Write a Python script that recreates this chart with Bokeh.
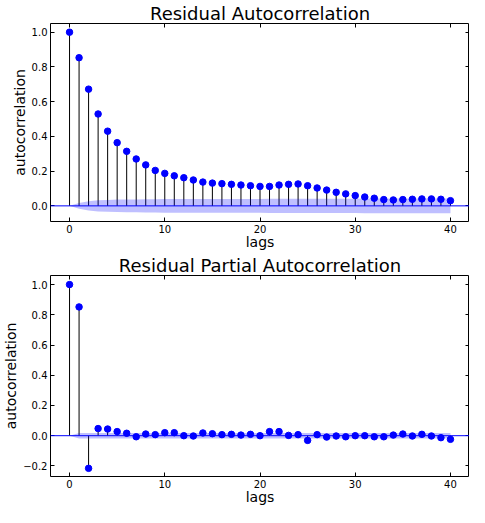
from bokeh.plotting import figure
from bokeh.layouts import column
from bokeh.models import (Range1d, FixedTicker, LinearAxis, Span, CustomJSTickFormatter,
                          CustomLabelingPolicy)
from bokeh.embed import file_html
from bokeh.resources import INLINE

lags = list(range(41))
acf_vals = [1.0, 0.853, 0.672, 0.529, 0.430, 0.364, 0.314, 0.270, 0.236, 0.204,
            0.187, 0.173, 0.162, 0.149, 0.137, 0.131, 0.128, 0.124, 0.120, 0.116,
            0.112, 0.112, 0.120, 0.124, 0.126, 0.116, 0.103, 0.091, 0.078, 0.069,
            0.059, 0.051, 0.044, 0.036, 0.034, 0.036, 0.038, 0.040, 0.040, 0.038,
            0.030]
acf_band = [0.0, 0.017, 0.027, 0.032, 0.034, 0.036, 0.037, 0.037, 0.038, 0.038,
            0.039, 0.039, 0.039, 0.039, 0.040, 0.040, 0.040, 0.040, 0.040, 0.040,
            0.040, 0.041, 0.041, 0.041, 0.041, 0.041, 0.041, 0.041, 0.041, 0.041,
            0.041, 0.042, 0.042, 0.042, 0.042, 0.042, 0.042, 0.042, 0.042, 0.042,
            0.042]
pacf_vals = [1.0, 0.852, -0.216, 0.047, 0.044, 0.027, 0.016, -0.007, 0.011, 0.007,
             0.020, 0.020, 0.0, -0.002, 0.018, 0.013, 0.007, 0.009, 0.004, 0.009,
             0.0, 0.027, 0.027, 0.002, 0.007, -0.031, 0.007, -0.009, -0.002, -0.007,
             0.0, 0.0, -0.007, -0.007, 0.004, 0.011, -0.002, 0.009, -0.002, -0.013,
             -0.024]
pacf_band = [0.0] + [0.018] * 40

x_ticks = [0, 10, 20, 30, 40]
acf_yticks = [0.0, 0.2, 0.4, 0.6, 0.8, 1.0]
pacf_yticks = [-0.2, 0.0, 0.2, 0.4, 0.6, 0.8, 1.0]

FONT = "DejaVu Sans"
fmt = CustomJSTickFormatter(code="return tick.toFixed(1).replace('-', '\u2212');")
HIDE = ("try { indices.clear() } catch (e) "
        "{ for (let i = 0; i < indices.size; i++) indices.unset(i) } return indices")


def mirror_axis(ticks):
    return LinearAxis(ticker=FixedTicker(ticks=ticks), axis_line_color=None,
                      major_tick_in=4, major_tick_out=0, minor_tick_line_color=None,
                      major_label_text_font_size="0px", major_label_standoff=0,
                      axis_label_standoff=0,
                      major_label_policy=CustomLabelingPolicy(code=HIDE))


def make_plot(title, vals, band, yticks, yr, height, top, bottom):
    p = figure(width=469, height=height, output_backend="svg", toolbar_location=None,
               x_range=Range1d(-2, 42), y_range=Range1d(*yr), title=title,
               min_border_left=30, min_border_right=0, min_border_top=top,
               min_border_bottom=bottom)
    p.title.text_font = FONT
    p.title.text_font_size = "18px"
    p.title.text_font_style = "normal"
    p.title.text_color = "black"
    p.title.align = "center"
    p.title.standoff = 0
    p.grid.visible = False
    p.outline_line_color = "black"
    p.outline_line_width = 1
    p.outline_line_alpha = 1
    p.background_fill_color = "white"
    p.border_fill_color = "white"

    p.xaxis.ticker = FixedTicker(ticks=x_ticks)
    p.yaxis.ticker = FixedTicker(ticks=yticks)
    p.yaxis.formatter = fmt
    for ax in (p.xaxis[0], p.yaxis[0]):
        ax.axis_line_color = None
        ax.major_tick_in = 4
        ax.major_tick_out = 0
        ax.minor_tick_line_color = None
        ax.major_label_text_font = FONT
        ax.major_label_text_font_size = "10px"
        ax.major_label_text_color = "black"
        ax.axis_label_text_font = FONT
        ax.axis_label_text_font_size = "14px"
        ax.axis_label_text_font_style = "normal"
        ax.axis_label_text_color = "black"
    p.xaxis.axis_label = "lags"
    p.yaxis.axis_label = "autocorrelation"
    p.xaxis.major_label_standoff = 3
    p.xaxis.axis_label_standoff = -2
    p.yaxis.major_label_standoff = 3
    p.yaxis.axis_label_standoff = 1

    p.add_layout(mirror_axis(yticks), "right")
    p.add_layout(mirror_axis(x_ticks), "above")

    p.segment(x0=lags, y0=[0] * len(lags), x1=lags, y1=vals, line_color="black", line_width=1)
    p.scatter(x=lags, y=vals, size=6.5, fill_color="blue", line_color="blue")
    p.add_layout(Span(location=0, dimension="width", line_color="blue", line_width=1))
    p.varea(x=lags, y1=[-b for b in band], y2=band, fill_color="blue", fill_alpha=0.25)
    return p


p1 = make_plot("Residual Autocorrelation", acf_vals, acf_band, acf_yticks,
               (-0.09, 1.05), 252, 15, 30)
p2 = make_plot("Residual Partial Autocorrelation", pacf_vals, pacf_band, pacf_yticks,
               (-0.27, 1.06), 255, 15, 30)

p = column(p1, p2, spacing=0)
open("out.html", "w").write(file_html(p, INLINE))
